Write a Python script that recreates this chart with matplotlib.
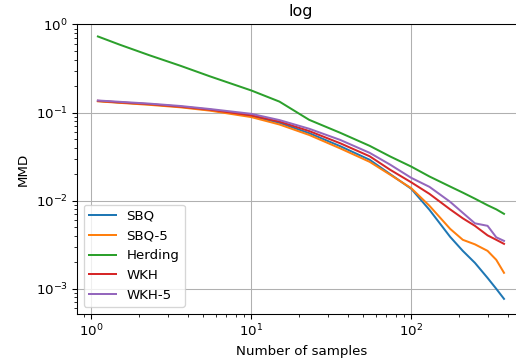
import numpy as np
import matplotlib
matplotlib.use("Agg")
import matplotlib.pyplot as plt

# Number of samples (x positions)
n_samples = [1.1, 1.5, 2.3, 3.6, 5.5, 10, 15, 23, 36, 55, 74, 100,
             130, 175, 210, 250, 300, 340, 380]

# MMD values per method
mmd_sbq = [0.1351, 0.1298, 0.1240, 0.1161, 0.1068, 0.0910, 0.0764, 0.0583,
           0.0414, 0.0290, 0.0199, 0.0136, 0.00784, 0.00387, 0.00268,
           0.00196, 0.00132, 0.000993, 0.000764]
mmd_sbq5 = [0.1340, 0.1288, 0.1223, 0.1146, 0.1051, 0.0887, 0.0731, 0.0556,
            0.0391, 0.0275, 0.0196, 0.0138, 0.00871, 0.00477, 0.00358,
            0.00318, 0.00268, 0.00212, 0.00151]
mmd_herding = [0.731, 0.591, 0.448, 0.340, 0.258, 0.178, 0.133, 0.0826,
               0.0588, 0.0418, 0.0316, 0.0243, 0.01875, 0.01442, 0.0123,
               0.0105, 0.00884, 0.00794, 0.00706]
mmd_wkh = [0.1358, 0.1305, 0.1246, 0.1167, 0.1079, 0.0929, 0.0788, 0.0616,
           0.0447, 0.0318, 0.0223, 0.0161, 0.0119, 0.00794, 0.00628,
           0.00516, 0.00402, 0.00358, 0.00322]
mmd_wkh5 = [0.1369, 0.1323, 0.1262, 0.1186, 0.1096, 0.0966, 0.0820, 0.0654,
            0.0488, 0.0348, 0.0255, 0.0181, 0.0143, 0.00967, 0.00725,
            0.00551, 0.00516, 0.00382, 0.00348]

labels = ["SBQ", "SBQ-5", "Herding", "WKH", "WKH-5"]
series = [mmd_sbq, mmd_sbq5, mmd_herding, mmd_wkh, mmd_wkh5]

DPI = 96
fig = plt.figure(figsize=(516 / DPI, 360 / DPI), dpi=DPI)
# axes run past the right edge, as in the reference (right spine is cut off)
ax = fig.add_axes([0.1492, 0.129, 0.869, 0.803])

for lab, vals in zip(labels, series):
    ax.plot(n_samples, vals, label=lab, linewidth=1.5)

ax.set_xscale("log")
ax.set_yscale("log")
ax.set_xlim(0.814, 517)
ax.set_ylim(5.2e-4, 1.0)
ax.grid(True, which="major")
ax.set_xlabel("Number of samples")
ax.set_ylabel("MMD")
ax.set_title("log")
ax.legend(loc="lower left")

fig.savefig("out.png", dpi=DPI)
